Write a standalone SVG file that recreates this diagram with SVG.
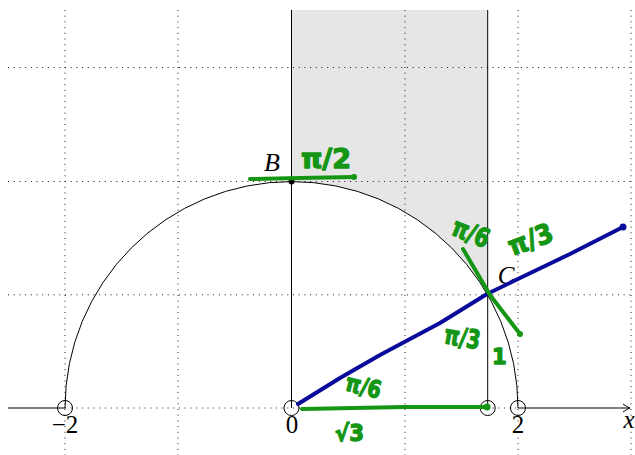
<svg xmlns="http://www.w3.org/2000/svg" width="635" height="455" viewBox="0 0 635 455">
<defs>
<style>
.grid{stroke:#000;stroke-width:0.9;stroke-dasharray:1 4.7;fill:none}
.thin{stroke:#000;stroke-width:1;fill:none}
.pt{stroke:#000;stroke-width:1;fill:none}
.math{font-family:"Liberation Serif",serif;fill:#000}
.it{font-style:italic}
.g{stroke:#149614;stroke-width:4;stroke-linecap:round;stroke-linejoin:round;fill:none}
.gt{font-family:"DejaVu Sans",sans-serif;font-weight:bold;fill:#149614;stroke:#149614;stroke-width:1.3;stroke-linejoin:round}
.blue{stroke:#0b0b9b;stroke-width:4;stroke-linecap:round;stroke-linejoin:round;fill:none}
</style>
<marker id="arr" markerWidth="12" markerHeight="12" refX="10" refY="6" orient="auto" markerUnits="userSpaceOnUse">
<path d="M3,2 Q7,5 10,6 Q7,7 3,10" fill="none" stroke="#000" stroke-width="1"/>
</marker>
</defs>
<rect width="635" height="455" fill="#fff"/>
<g id="region">
<path d="M291.5,10 L487.7,10 L487.7,294.8 A226.5,226.5 0 0 0 291.5,181.5 Z" fill="#e6e6e6"/>
</g>
<g id="grid">
<path class="grid" d="M65,10V455 M178,10V455 M405,10V455 M518,10V455 M631,10V455"/>
<path class="grid" d="M8,67.5H631 M8,181.5H631 M8,294.8H631 M65,408H518"/>
</g>
<g id="axes">
<path class="thin" d="M8,408H65"/>
<path class="thin" d="M518,408H630" marker-end="url(#arr)"/>
<text class="math it" x="629" y="428" font-size="25" text-anchor="middle">x</text>
<text class="math" x="65" y="433" font-size="25" text-anchor="middle">−2</text>
<text class="math" x="292" y="433" font-size="25" text-anchor="middle">0</text>
<text class="math" x="518" y="433" font-size="25" text-anchor="middle">2</text>
</g>
<g id="semicircle">
<path class="thin" d="M65,408 A226.5,226.5 0 0 1 518,408"/>
<path class="thin" d="M291.5,10V408 M487.7,10V408"/>
</g>
<g id="points">
<circle class="pt" cx="65" cy="408" r="7.5"/>
<circle class="pt" cx="291.5" cy="408" r="7.5"/>
<circle class="pt" cx="487.7" cy="408" r="7.5"/>
<circle class="pt" cx="518" cy="408" r="7.5"/>
<circle cx="291.5" cy="181.5" r="3" fill="#000"/>
</g>
<g id="labelB"><text class="math it" x="272" y="171" font-size="26" text-anchor="middle">B</text></g>
<g id="labelC"><text class="math it" x="506" y="284" font-size="25" text-anchor="middle">C</text></g>
<g id="connectors">
<path class="blue" d="M298,404 L340,378 L380,355 L440,323 L487,294 L520,278 L570,254 L623,227"/>
<circle cx="623" cy="227" r="3.5" fill="#0b0b9b"/>
<path class="g" d="M250,179 L300,178 L354,177"/>
<circle cx="354" cy="177" r="3" fill="#149614"/>
<path class="g" d="M463,249 L490,295 L520,334"/>
<circle cx="520" cy="334" r="3" fill="#149614"/>
<path class="g" d="M302,409 L405,407 L487,407"/>
<circle cx="487" cy="407" r="3.5" fill="#149614"/>
</g>
<g id="annotations">
<text class="gt" x="301" y="168" font-size="27" textLength="50" lengthAdjust="spacingAndGlyphs">π/2</text>
<text class="gt" font-size="26" textLength="38" lengthAdjust="spacingAndGlyphs" transform="translate(450,234) rotate(22)">π/6</text>
<text class="gt" font-size="27" textLength="46" lengthAdjust="spacingAndGlyphs" transform="translate(512,256) rotate(-20)">π/3</text>
<text class="gt" font-size="26" textLength="36" lengthAdjust="spacingAndGlyphs" transform="translate(443,343) rotate(10)">π/3</text>
<text class="gt" font-size="24" textLength="36" lengthAdjust="spacingAndGlyphs" transform="translate(344,390) rotate(14)">π/6</text>
<text class="gt" x="335" y="441" font-size="23" textLength="29" lengthAdjust="spacingAndGlyphs">√3</text>
<text class="gt" x="492" y="364" font-size="21">1</text>
</g>
</svg>
